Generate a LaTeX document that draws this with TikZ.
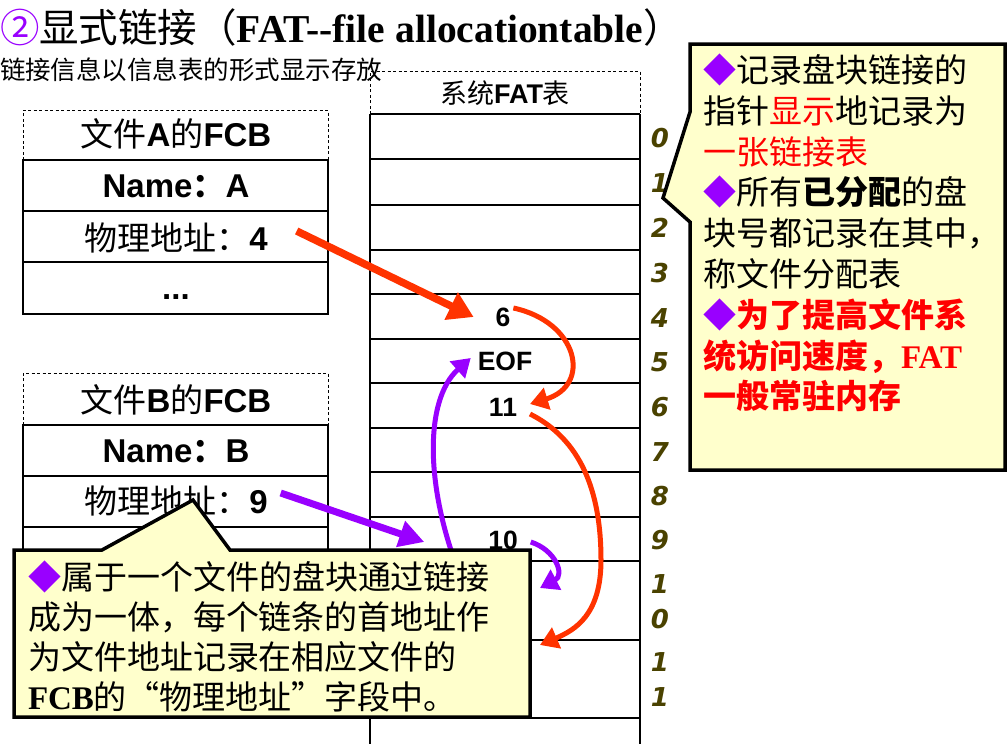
\documentclass[tikz,border=0pt]{standalone}
\usepackage{fontspec}
\setmainfont{Liberation Sans}
\newfontfamily\cjk{Noto Sans CJK SC}
\newfontfamily\tnr{Liberation Serif}
\newfontfamily\digf{DejaVu Sans}
\usetikzlibrary{arrows.meta}
\definecolor{fred}{HTML}{FF3300}
\definecolor{fpur}{HTML}{9900FF}
\definecolor{cyel}{HTML}{FFFFCC}
\definecolor{olv}{HTML}{4A4200}
\definecolor{tred}{HTML}{FF0000}
\newcommand\zh[1]{{\cjk #1}}
\newcommand\dia{\textcolor{fpur}{◆}}
\begin{document}
\begin{tikzpicture}[x=1pt,y=-1pt,
  every node/.style={inner sep=0pt,outer sep=0pt},
  tline/.style={line width=1.3pt},
  dline/.style={line width=1pt,dash pattern=on 3pt off 2.5pt},
  fcbtxt/.style={font=\fontsize{33}{38}\selectfont},
  fatval/.style={font=\fontsize{26.5}{28}\selectfont\bfseries},
  rownum/.style={font=\fontsize{26}{35}\selectfont\digf\bfseries\itshape,text=olv,align=center},
  callout/.style={fill=cyel,draw=black,line width=3.5pt,line join=miter},
  ctxt/.style={anchor=base west,font=\fontsize{33}{40}\selectfont\cjk},
  redarr/.style={draw=fred,line width=7.5pt,-{Triangle[length=25pt,width=29pt]}},
  redcurve/.style={draw=fred,line width=5pt,-{Triangle[length=18pt,width=22pt]}},
  purarr/.style={draw=fpur,line width=7pt,-{Triangle[length=25pt,width=26pt]}},
  purcurve/.style={draw=fpur,line width=5pt,-{Triangle[length=18pt,width=22pt]}}
]
\useasboundingbox (0,0) rectangle (1007,744);

% title
\node[anchor=west] (title) at (0,27) {\fontsize{39.5}{42}\selectfont\cjk\textcolor{fpur}{②}显式链接（{\tnr\bfseries FAT-{}-file allocationtable}）};
\node[anchor=west,font=\fontsize{25.5}{28}\selectfont\cjk] (sub) at (0,70) {链接信息以信息表的形式显示存放};

% FAT table
\foreach \yy in {114,159,205,250,294,339,383,428,472,517,561,640,718}
  \draw[tline] (370,\yy) -- (640,\yy);
\draw[tline] (370,114) -- (370,744) (640,114) -- (640,744);
\draw[dline] (370,114) -- (370,71) -- (640,71) -- (640,114);
\node[font=\fontsize{27}{30}\selectfont] (fathdr) at (505,93) {\zh{系统}\textbf{FAT}\zh{表}};
\node[fatval] (v6) at (503,317) {6};
\node[fatval] (vEOF) at (505,361) {EOF};
\node[fatval] (v11) at (503,407) {11};
\node[fatval] (v10) at (503,540) {10};
\foreach \n/\yy in {0/138,1/183,2/228,3/273,4/318,5/362,6/407,7/452,8/496,9/540}
  \node[rownum] (rn\n) at (660,\yy) {\n};
\node[rownum] (rn10) at (660,601.5) {1\\0};
\node[rownum] (rn11) at (660,680) {1\\1};

% FCB A
\draw[dline] (23,160) -- (23,110) -- (328,110) -- (328,160);
\draw[tline] (23,160) rectangle (328,314);
\draw[tline] (23,211) -- (328,211) (23,262) -- (328,262);
\node[fcbtxt] (fa) at (176,134) {\zh{文件}\textbf{A}\zh{的}\textbf{FCB}};
\node[fcbtxt] (na) at (176,186) {\textbf{Name}{\cjk\bfseries ：}\textbf{A}};
\node[fcbtxt] (a4) at (176,238) {\zh{物理地址：}\textbf{4}};
\node[fcbtxt,anchor=base] (adots) at (176,299) {\textbf{...}};

% FCB B
\draw[dline] (23,425) -- (23,373) -- (328,373) -- (328,425);
\draw[tline] (23,425) rectangle (328,578);
\draw[tline] (23,476) -- (328,476) (23,527) -- (328,527);
\node[fcbtxt] (fb) at (176,400) {\zh{文件}\textbf{B}\zh{的}\textbf{FCB}};
\node[fcbtxt] (nb) at (176,451) {\textbf{Name}{\cjk\bfseries ：}\textbf{B}};
\node[fcbtxt] (b9) at (176,501) {\zh{物理地址：}\textbf{9}};

% hidden chain points
\coordinate (r11in) at (540,645);
\coordinate (r10in) at (540,588);
\coordinate (r10out) at (462,580);

% arrows
\draw[redarr] ([xshift=29pt,yshift=7pt]a4.east) -- ([xshift=-22pt]v6.west);
\draw[redcurve] ([xshift=3pt,yshift=9pt]v6.east) .. controls +(65,14) and +(62,-19) .. ([xshift=13pt,yshift=3pt]v11.east);
\draw[redcurve] ([xshift=13pt,yshift=-7pt]v11.east) .. controls +(50,25) and +(0,-70) .. (601,560) .. controls +(0,55) and +(35,-15) .. (r11in);
\draw[purarr] ([xshift=13pt,yshift=8pt]b9.east) -- ([xshift=-64pt,yshift=-2pt]v10.west);
\draw[purcurve] ([xshift=13pt,yshift=-2pt]v10.east) .. controls +(25,8) and +(25,-13) .. (r10in);
\draw[purcurve] (r10out) .. controls +(-37,-90) and +(-47,42) .. ([xshift=-7pt,yshift=3pt]vEOF.west);

% right callout
\draw[callout] (690,44) -- (1005,44) -- (1005,470) -- (690,470) -- (690,222) -- (663,198) -- (690,112) -- cycle;
\foreach \t [count=\i from 0] in {
  {\dia 记录盘块链接的},
  {指针\textcolor{tred}{显示}地记录为},
  {\textcolor{tred}{一张链接表}},
  {\dia 所有{\bfseries 已分配}的盘},
  {块号都记录在其中，},
  {称文件分配表},
  {\dia{\color{tred}\bfseries 为了提高文件系}},
  {{\color{tred}\bfseries 统访问速度，{\tnr\bfseries FAT}}},
  {{\color{tred}\bfseries 一般常驻内存}}}
  \node[ctxt] (rt\i) at (703,82.5+40.8*\i) {\t};

% bottom callout
\draw[callout] (14,550) -- (102,550) -- (193,500) -- (230,550) -- (530,550) -- (530,717) -- (14,717) -- cycle;
\foreach \t [count=\i from 0] in {
  {\dia 属于一个文件的盘块通过链接},
  {成为一体，每个链条的首地址作},
  {为文件地址记录在相应文件的},
  {{\tnr\bfseries FCB}的“物理地址”字段中。}}
  \node[ctxt] (bt\i) at (28,589.5+40*\i) {\t};
\end{tikzpicture}
\end{document}
